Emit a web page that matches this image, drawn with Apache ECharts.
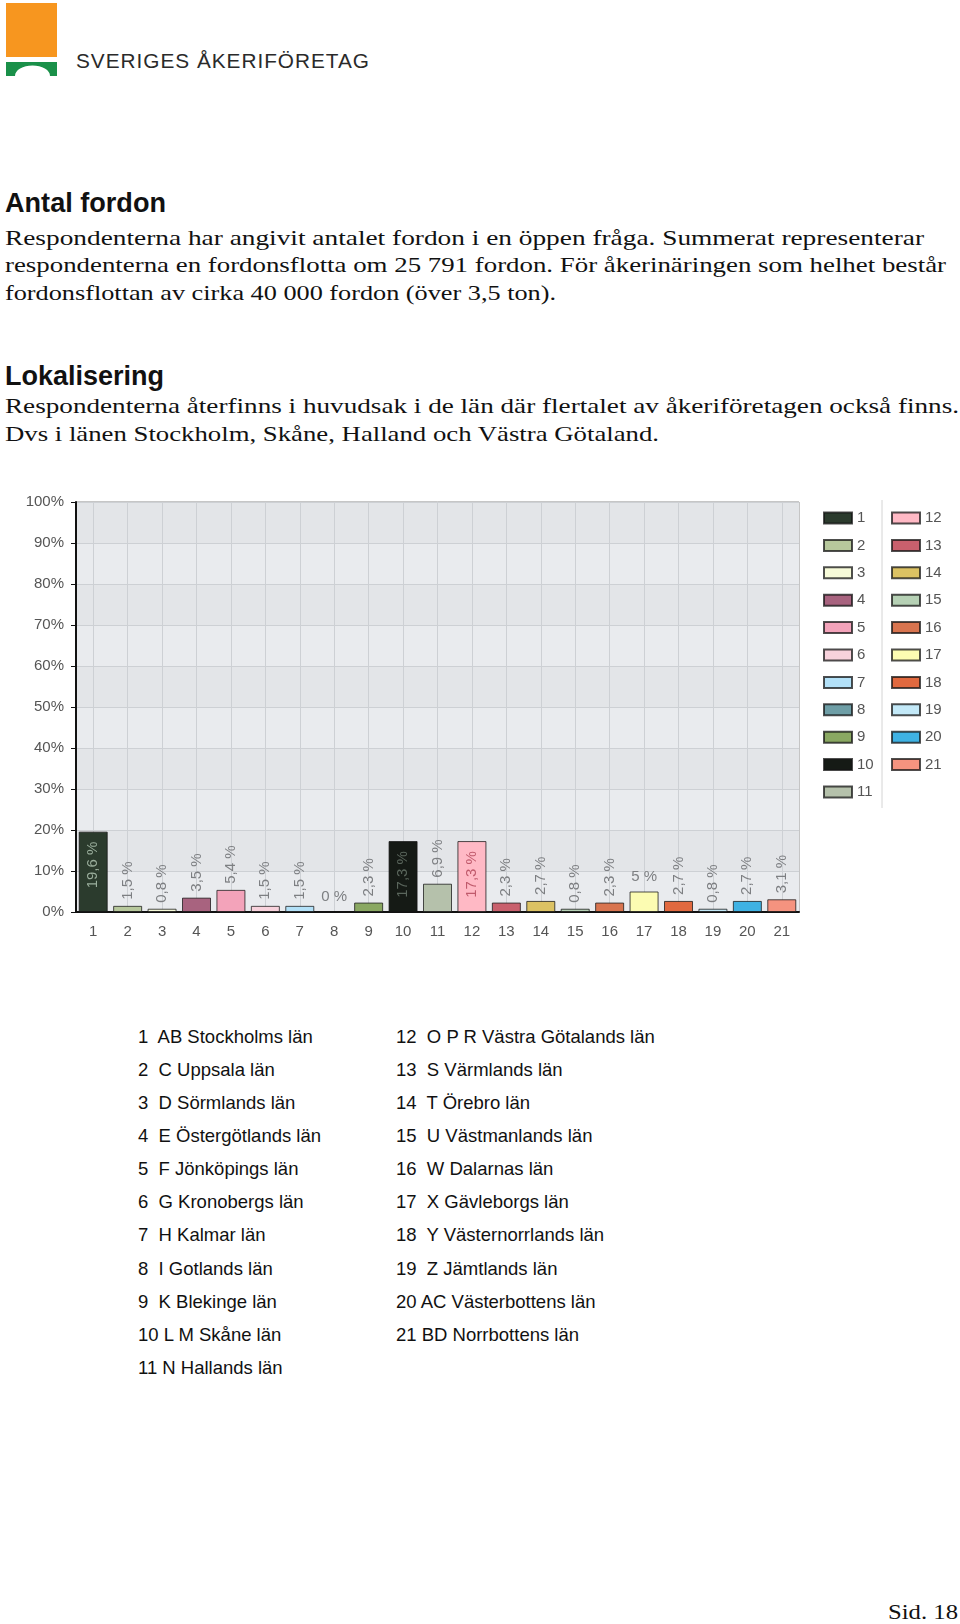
<!DOCTYPE html>
<html><head><meta charset="utf-8">
<script src="https://cdn.jsdelivr.net/npm/echarts@6/dist/echarts.min.js"></script>
<style>
html,body{margin:0;padding:0;background:#fff;}
body{width:960px;height:1624px;position:relative;overflow:hidden;}
.t{position:absolute;white-space:pre;line-height:1;transform-origin:0 0;color:#111;}
#chart{position:absolute;left:0;top:470px;width:960px;height:480px;}
</style></head><body>
<svg style="position:absolute;left:0;top:0" width="70" height="80">
  <rect x="6" y="3" width="51" height="54" fill="#f7961f"/>
  <path d="M6 62 H57 V76 H50 A17.5 10.5 0 0 0 15 76 H6 Z" fill="#1a9049"/>
</svg>
<div id="chart"></div>
<script>
// ---- data ----
const categories = ['1','2','3','4','5','6','7','8','9','10','11','12','13','14','15','16','17','18','19','20','21'];
const values = [19.6, 1.5, 0.8, 3.5, 5.4, 1.5, 1.5, 0, 2.3, 17.3, 6.9, 17.3, 2.3, 2.7, 0.8, 2.3, 5, 2.7, 0.8, 2.7, 3.1];
const yTickValues = [0, 10, 20, 30, 40, 50, 60, 70, 80, 90, 100];
const countyNames = [
  '1  AB Stockholms län', '2  C Uppsala län', '3  D Sörmlands län', '4  E Östergötlands län',
  '5  F Jönköpings län', '6  G Kronobergs län', '7  H Kalmar län', '8  I Gotlands län',
  '9  K Blekinge län', '10 L M Skåne län', '11 N Hallands län',
  '12  O P R Västra Götalands län', '13  S Värmlands län', '14  T Örebro län', '15  U Västmanlands län',
  '16  W Dalarnas län', '17  X Gävleborgs län', '18  Y Västernorrlands län', '19  Z Jämtlands län',
  '20 AC Västerbottens län', '21 BD Norrbottens län'
];
// ---- styles ----
const colors = ['#2b3b2d','#b7c89c','#f7fbd9','#a8637f','#f3a3ba','#f8d2dc','#b3e1f8','#6e9ea6','#8aa862','#151a15','#b5c1ab',
                '#ffb9c5','#c9606d','#dcc263','#b6d1b5','#d8744f','#fcfcb2','#e1693f','#c3e9f8','#3fb2e3','#f5937f'];
const insideLabelColors = {0:'#9aae9c', 9:'#5a665c', 11:'#c05a6c'};
const SANS = '"Liberation Sans", Arial, sans-serif';
const SERIF = '"Liberation Serif", "Times New Roman", serif';

function place(txt, x, base, size, fam, opt) {
  opt = opt || {};
  const d = document.createElement('div');
  d.className = 't';
  d.textContent = txt;
  d.style.fontFamily = fam;
  d.style.fontSize = size + 'px';
  if (opt.weight) d.style.fontWeight = opt.weight;
  if (opt.color) d.style.color = opt.color;
  if (opt.ls) d.style.letterSpacing = opt.ls + 'px';
  const asc = fam === SERIF ? 0.8375 : 0.8465;
  d.style.left = x + 'px';
  d.style.top = (base - asc * size) + 'px';
  document.body.appendChild(d);
  if (opt.w) {
    const w = d.getBoundingClientRect().width;
    d.style.transform = 'scaleX(' + (opt.w / w) + ')';
  }
}
place('SVERIGES ÅKERIFÖRETAG', 76, 68, 21, SANS, {w: 294, color: '#2a2a2a', ls: 1});
place('Antal fordon', 5, 213, 27, SANS, {weight: 'bold', w: 161});
place('Respondenterna har angivit antalet fordon i en öppen fråga. Summerat representerar', 5, 245, 22, SERIF, {w: 919});
place('respondenterna en fordonsflotta om 25 791 fordon. För åkerinäringen som helhet består', 5, 272.5, 22, SERIF, {w: 941});
place('fordonsflottan av cirka 40 000 fordon (över 3,5 ton).', 5, 300, 22, SERIF, {w: 551});
place('Lokalisering', 5, 386, 27, SANS, {weight: 'bold', w: 159});
place('Respondenterna återfinns i huvudsak i de län där flertalet av åkeriföretagen också finns.', 5, 413, 22, SERIF, {w: 954});
place('Dvs i länen Stockholm, Skåne, Halland och Västra Götaland.', 5, 441, 22, SERIF, {w: 654});
countyNames.forEach((n, i) => {
  const col = i < 11 ? 0 : 1;
  const row = col === 0 ? i : i - 11;
  place(n, col === 0 ? 138 : 396, 1043.5 + row * 33.1, 18.5, SANS, {color: '#111'});
});
place('Sid. 18', 888, 1619, 22, SERIF, {w: 70});

// ---- chart ----
const fmt = v => String(v).replace('.', ',') + ' %';
const series = values.map((v, i) => {
  const txt = fmt(v);
  const inside = v >= 15;
  const horiz = txt.length <= 3;
  return {
    name: categories[i],
    type: 'bar',
    stack: 'all',
    barWidth: 29,
    data: categories.map((c, j) => (j === i ? v : null)),
    itemStyle: {color: colors[i], borderColor: 'rgba(20,20,20,0.75)', borderWidth: 1},
    emphasis: {disabled: true},
    label: {
      show: true,
      formatter: p => fmt(p.value),
      fontFamily: SANS,
      fontSize: 15,
      color: inside ? insideLabelColors[i] : '#7d7f82',
      position: inside ? 'insideTop' : 'top',
      distance: inside ? 10 : (horiz ? 7 : 6),
      rotate: horiz ? 0 : 90,
      align: horiz ? 'center' : (inside ? 'right' : 'left'),
      verticalAlign: horiz ? 'bottom' : 'middle'
    }
  };
});

const legendBase = {
  orient: 'vertical', top: 40, itemWidth: 28, itemHeight: 11, itemGap: 11.4,
  padding: 0, selectedMode: false, icon: 'rect',
  textStyle: {fontSize: 15, color: '#555', fontFamily: SANS, lineHeight: 16, padding: [0, 0, 0, 0]}
};

const chart = echarts.init(document.getElementById('chart'), null, {renderer: 'canvas'});
chart.setOption({
  animation: false,
  backgroundColor: 'transparent',
  grid: {left: 76, top: 32, width: 723, height: 410, show: true, borderColor: '#8c8c8c', borderWidth: 1, backgroundColor: 'transparent'},
  legend: [
    Object.assign({}, legendBase, {left: 823, data: categories.slice(0, 11)}),
    Object.assign({}, legendBase, {left: 891, data: categories.slice(11)})
  ],
  xAxis: {
    type: 'category',
    data: categories,
    axisLine: {lineStyle: {color: '#111', width: 2}},
    axisTick: {alignWithLabel: true, length: 6, lineStyle: {color: '#111'}},
    axisLabel: {fontSize: 15, color: '#555', fontFamily: SANS, margin: 12},
    splitLine: {show: true, alignWithLabel: true, lineStyle: {color: '#cdd0d4'}}
  },
  yAxis: {
    type: 'value', min: 0, max: 100, interval: 10,
    axisLine: {show: true, lineStyle: {color: '#111', width: 2}},
    axisTick: {show: true, length: 5, lineStyle: {color: '#111'}},
    axisLabel: {fontSize: 15, color: '#555', fontFamily: SANS, margin: 12, formatter: v => yTickValues.includes(v) ? v + '%' : ''},
    splitLine: {lineStyle: {color: '#cdd0d4'}},
    splitArea: {show: true, areaStyle: {color: ['#e9ebee', '#e3e5e8']}}
  },
  graphic: [{type: 'line', shape: {x1: 882, y1: 30, x2: 882, y2: 338}, style: {stroke: '#d4d4d4', lineWidth: 1}, silent: true}],
  series: series
});
</script>
</body></html>
